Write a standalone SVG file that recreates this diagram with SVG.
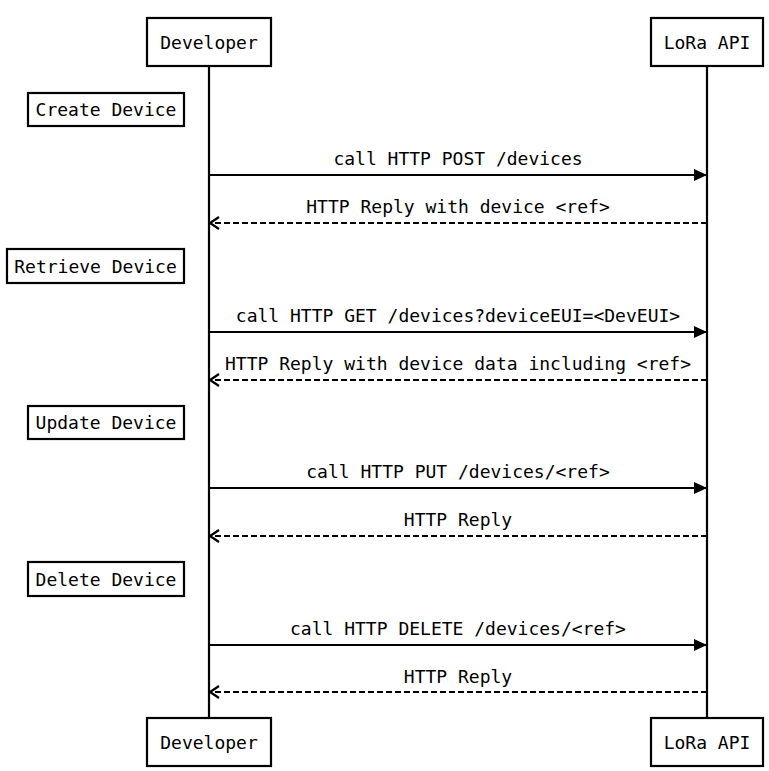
<svg xmlns="http://www.w3.org/2000/svg" width="769" height="771" viewBox="0 0 769 771">
<defs>
<style>
text{font-family:"DejaVu Sans Mono","Liberation Mono",monospace;font-size:18px;fill:#000}
.box{fill:#fff;stroke:#000;stroke-width:2.2}
.life{stroke:#000;stroke-width:2.2}
.msg{stroke:#000;stroke-width:2.2;fill:none}
.dash{stroke-dasharray:6 3}
.c{text-anchor:middle}
</style>
<marker id="fill" markerWidth="14" markerHeight="12" refX="13" refY="6" orient="auto" markerUnits="userSpaceOnUse">
<path d="M0,0 L13,6 L0,12 Z" fill="#000"/>
</marker>
<marker id="open" markerWidth="14" markerHeight="14" refX="10" refY="7" orient="auto" markerUnits="userSpaceOnUse">
<path d="M1,1 L10,7 L1,13" fill="none" stroke="#000" stroke-width="2.2"/>
</marker>
</defs>
<g id="lifelines">
<line class="life" x1="209" y1="66" x2="209" y2="718"/>
<line class="life" x1="707" y1="66" x2="707" y2="718"/>
</g>
<g id="developer-top"><rect class="box" x="147" y="18" width="124" height="48"/><text class="c" x="209" y="49">Developer</text></g>
<g id="lora-top"><rect class="box" x="651" y="18" width="112" height="48"/><text class="c" x="707" y="49">LoRa API</text></g>
<g id="developer-bottom"><rect class="box" x="147" y="718" width="124" height="48"/><text class="c" x="209" y="749">Developer</text></g>
<g id="lora-bottom"><rect class="box" x="651" y="718" width="112" height="48"/><text class="c" x="707" y="749">LoRa API</text></g>
<g id="note-create"><rect class="box" x="28" y="93" width="156" height="33"/><text class="c" x="106" y="116">Create Device</text></g>
<g id="note-retrieve"><rect class="box" x="7" y="249" width="177" height="34"/><text class="c" x="95.5" y="273">Retrieve Device</text></g>
<g id="note-update"><rect class="box" x="28" y="406" width="156" height="33"/><text class="c" x="106" y="429">Update Device</text></g>
<g id="note-delete"><rect class="box" x="28" y="562" width="156" height="34"/><text class="c" x="106" y="586">Delete Device</text></g>
<g id="connectors">
<line class="msg" x1="209" y1="175" x2="707" y2="175" marker-end="url(#fill)"/>
<text class="c" x="458" y="165">call HTTP POST /devices</text>
<line class="msg dash" x1="707" y1="223" x2="210" y2="223" marker-end="url(#open)"/>
<text class="c" x="458" y="213">HTTP Reply with device &lt;ref&gt;</text>
<line class="msg" x1="209" y1="332" x2="707" y2="332" marker-end="url(#fill)"/>
<text class="c" x="458" y="322">call HTTP GET /devices?deviceEUI=&lt;DevEUI&gt;</text>
<line class="msg dash" x1="707" y1="380" x2="210" y2="380" marker-end="url(#open)"/>
<text class="c" x="458" y="370">HTTP Reply with device data including &lt;ref&gt;</text>
<line class="msg" x1="209" y1="488" x2="707" y2="488" marker-end="url(#fill)"/>
<text class="c" x="458" y="478">call HTTP PUT /devices/&lt;ref&gt;</text>
<line class="msg dash" x1="707" y1="536" x2="210" y2="536" marker-end="url(#open)"/>
<text class="c" x="458" y="526">HTTP Reply</text>
<line class="msg" x1="209" y1="645" x2="707" y2="645" marker-end="url(#fill)"/>
<text class="c" x="458" y="635">call HTTP DELETE /devices/&lt;ref&gt;</text>
<line class="msg dash" x1="707" y1="692" x2="210" y2="692" marker-end="url(#open)"/>
<text class="c" x="458" y="683">HTTP Reply</text>
</g>
</svg>
